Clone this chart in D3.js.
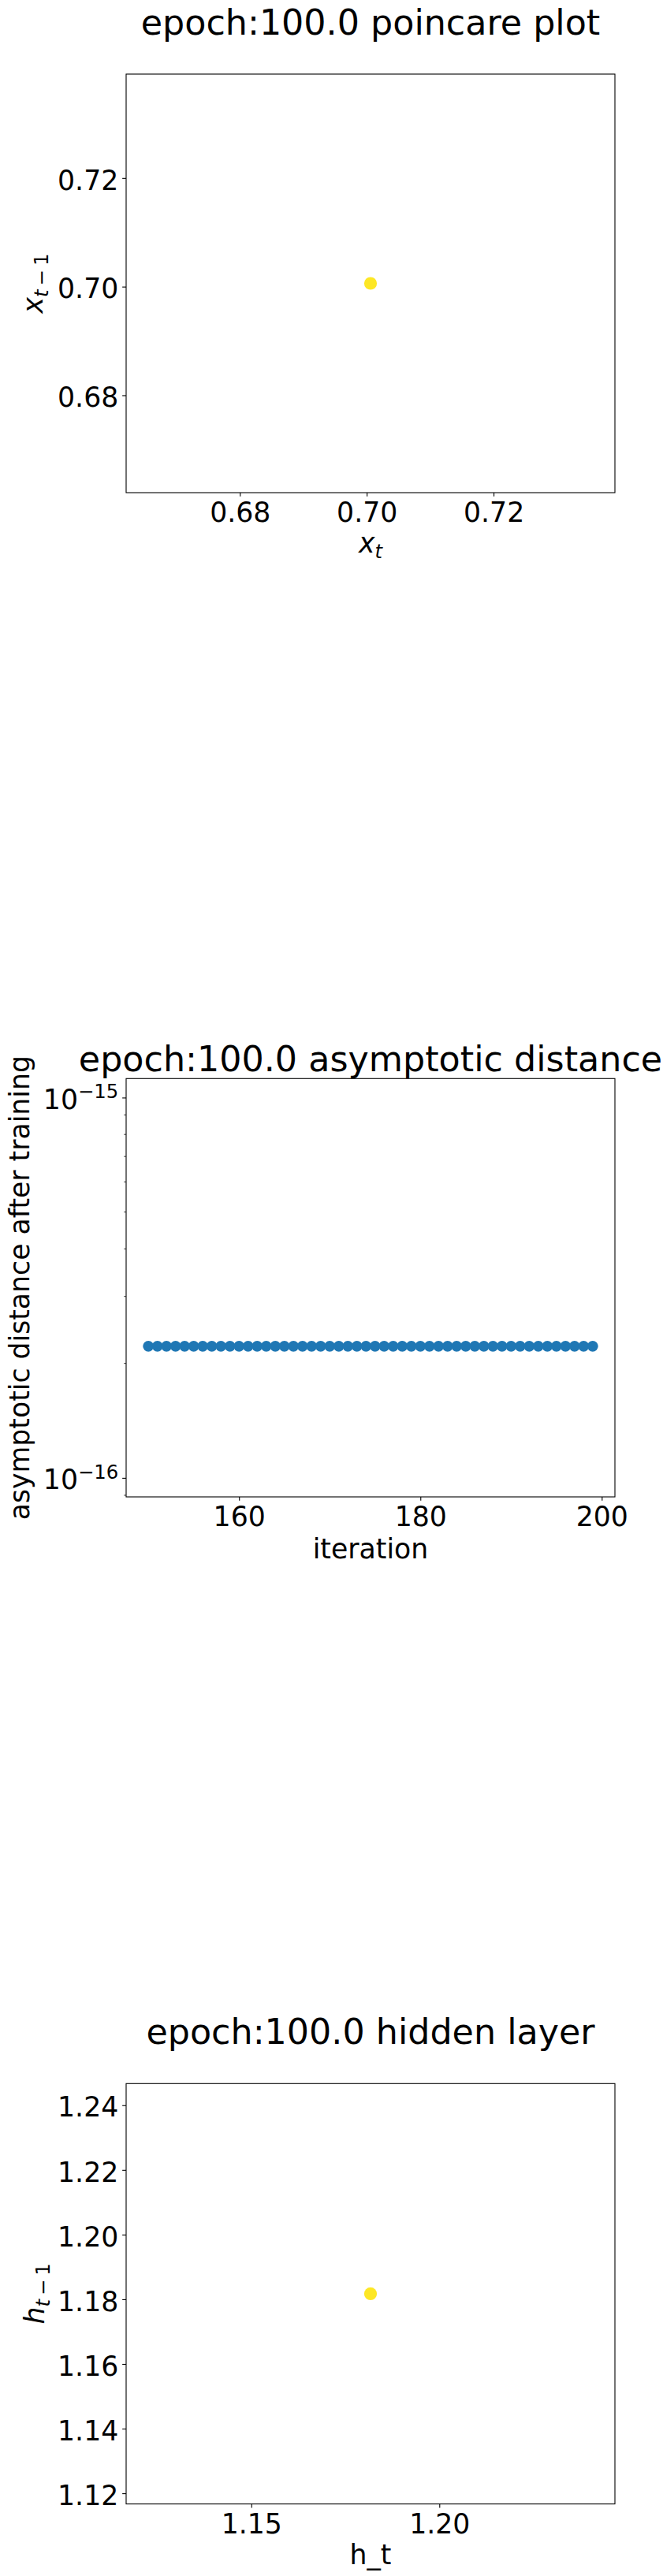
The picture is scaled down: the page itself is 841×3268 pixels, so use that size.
<!DOCTYPE html>
<html>
<head>
<meta charset="utf-8">
<script src="https://cdn.jsdelivr.net/npm/d3@7"></script>
<style>
  body { margin: 0; background: #fff; }
  svg { display: block; font-family: "DejaVu Sans", sans-serif; }
</style>
</head>
<body>
<svg id="chart" width="841" height="3268"></svg>
<script>
// poincare plot (x_t vs x_{t-1}), a single fixed point
const poincareX = [0.7006];
const poincareY = [0.7006];
const poincareXTicks = [0.68, 0.70, 0.72];
const poincareYTicks = [0.68, 0.70, 0.72];

// asymptotic distance after training, per iteration
const iterations = [
  150, 151, 152, 153, 154, 155, 156, 157, 158, 159,
  160, 161, 162, 163, 164, 165, 166, 167, 168, 169,
  170, 171, 172, 173, 174, 175, 176, 177, 178, 179,
  180, 181, 182, 183, 184, 185, 186, 187, 188, 189,
  190, 191, 192, 193, 194, 195, 196, 197, 198, 199
];
const distances = [
  2.22e-16, 2.22e-16, 2.22e-16, 2.22e-16, 2.22e-16, 2.22e-16, 2.22e-16, 2.22e-16, 2.22e-16, 2.22e-16,
  2.22e-16, 2.22e-16, 2.22e-16, 2.22e-16, 2.22e-16, 2.22e-16, 2.22e-16, 2.22e-16, 2.22e-16, 2.22e-16,
  2.22e-16, 2.22e-16, 2.22e-16, 2.22e-16, 2.22e-16, 2.22e-16, 2.22e-16, 2.22e-16, 2.22e-16, 2.22e-16,
  2.22e-16, 2.22e-16, 2.22e-16, 2.22e-16, 2.22e-16, 2.22e-16, 2.22e-16, 2.22e-16, 2.22e-16, 2.22e-16,
  2.22e-16, 2.22e-16, 2.22e-16, 2.22e-16, 2.22e-16, 2.22e-16, 2.22e-16, 2.22e-16, 2.22e-16, 2.22e-16
];
const iterationTicks = [160, 180, 200];
const distanceTicks = [1e-16, 1e-15];

// hidden layer (h_t vs h_{t-1})
const hiddenX = [1.1817];
const hiddenY = [1.1817];
const hiddenXTicks = [1.15, 1.20];
const hiddenYTicks = [1.12, 1.14, 1.16, 1.18, 1.20, 1.22, 1.24];

const svg = d3.select('#chart');
svg.append('rect').attr('width', 841).attr('height', 3268).attr('fill', '#fff');

const LEFT = 160, RIGHT = 780;
const TICK = 34.7, TITLE = 44.4, SUB = 24.3;
const tickLen = 4.86;

// matplotlib-like limits for a single value: nonsingular expand + 5% margin
const flatDomain = (v) => [v * 0.945, v * 1.055];

function styleAxis(g) {
  g.attr('font-size', null).attr('font-family', null);
  g.select('.domain').remove();
  g.selectAll('.tick line').attr('stroke', '#000').attr('stroke-width', 1.1);
  g.selectAll('.tick text').attr('fill', '#000').attr('font-size', TICK);
}

function frame(top, h) {
  svg.append('rect')
    .attr('x', LEFT).attr('y', top)
    .attr('width', RIGHT - LEFT).attr('height', h)
    .attr('fill', 'none').attr('stroke', '#000').attr('stroke-width', 1.1);
}

function title(text, y) {
  svg.append('text')
    .attr('x', 470).attr('y', y)
    .attr('text-anchor', 'middle')
    .attr('font-size', TITLE)
    .text(text);
}

// math label: italic base with subscript; a binary minus gets some space
function mathLabel(parent, base, sub) {
  parent.append('tspan').attr('font-style', 'italic').text(base);
  parent.append('tspan').attr('dy', 6.5).attr('font-size', SUB)
    .attr('font-style', 'italic').text(sub[0]);
  if (sub.length > 1) {
    parent.append('tspan').attr('dx', 5).attr('font-size', SUB).text(sub[1]);
    parent.append('tspan').attr('dx', 5).attr('font-size', SUB).text(sub.slice(2));
  }
}

function xAxis(x, bottom, ticks, fmt) {
  const g = svg.append('g')
    .attr('transform', `translate(0,${bottom})`)
    .call(d3.axisBottom(x).tickValues(ticks).tickFormat(fmt)
      .tickSizeOuter(0).tickSize(tickLen).tickPadding(tickLen));
  styleAxis(g);
  g.selectAll('.tick text').attr('dy', '0.79em');
}

function yAxis(y, ticks, fmt) {
  const g = svg.append('g')
    .attr('transform', `translate(${LEFT},0)`)
    .call(d3.axisLeft(y).tickValues(ticks).tickFormat(fmt)
      .tickSizeOuter(0).tickSize(tickLen).tickPadding(tickLen));
  styleAxis(g);
  g.selectAll('.tick text').attr('dy', '0.41em');
  return g;
}

// scatter panel with one point drawn in viridis yellow
function pointPanel(opts) {
  const { top, h, xs, ys, xTicks, yTicks, name, xlabel, ylabel, ylabelX } = opts;
  const bottom = top + h;
  const x = d3.scaleLinear().domain(flatDomain(xs[0])).range([LEFT, RIGHT]);
  const y = d3.scaleLinear().domain(flatDomain(ys[0])).range([bottom, top]);

  svg.append('g').selectAll('circle')
    .data(xs.map((v, i) => [v, ys[i]]))
    .join('circle')
      .attr('cx', (d) => x(d[0]))
      .attr('cy', (d) => y(d[1]))
      .attr('r', 8.1)
      .attr('fill', '#fde725');

  frame(top, h);
  xAxis(x, bottom, xTicks, d3.format('.2f'));
  yAxis(y, yTicks, d3.format('.2f'));
  title(name, top - 50);

  const xl = svg.append('text')
    .attr('x', 470).attr('y', bottom + 76)
    .attr('text-anchor', 'middle').attr('font-size', TICK);
  xlabel(xl);

  const yl = svg.append('text')
    .attr('transform', `translate(${ylabelX},${top + h / 2}) rotate(-90)`)
    .attr('text-anchor', 'middle').attr('font-size', TICK);
  ylabel(yl);
}

pointPanel({
  top: 94, h: 531,
  xs: poincareX, ys: poincareY,
  xTicks: poincareXTicks, yTicks: poincareYTicks,
  name: 'epoch:100.0 poincare plot',
  xlabel: (t) => mathLabel(t, 'x', 't'),
  ylabel: (t) => mathLabel(t, 'x', 't\u22121'),
  ylabelX: 54
});

// distance panel, log y axis
{
  const top = 1368.3, h = 530.7, bottom = top + h;
  const x = d3.scaleLinear().domain([147.55, 201.45]).range([LEFT, RIGHT]);
  const y = d3.scaleLog().domain([10 ** -16.05, 10 ** -14.95]).range([bottom, top]);

  svg.append('g').selectAll('circle')
    .data(iterations.map((v, i) => [v, distances[i]]))
    .join('circle')
      .attr('cx', (d) => x(d[0]))
      .attr('cy', (d) => y(d[1]))
      .attr('r', 6.9)
      .attr('fill', '#1f77b4');

  frame(top, h);
  xAxis(x, bottom, iterationTicks, d3.format('d'));

  // minor ticks at 2..9 x 10^k
  const minor = y.ticks().filter((v) => !distanceTicks.some((m) => Math.abs(v / m - 1) < 1e-6));
  svg.append('g').selectAll('line')
    .data(minor)
    .join('line')
      .attr('x1', LEFT - 2.78).attr('x2', LEFT)
      .attr('y1', (d) => y(d)).attr('y2', (d) => y(d))
      .attr('stroke', '#000').attr('stroke-width', 0.8);

  const g = yAxis(y, distanceTicks, () => '');
  g.selectAll('.tick text').each(function(d) {
    const t = d3.select(this).attr('dy', null).attr('y', 14);
    t.append('tspan').text('10');
    t.append('tspan').attr('dy', -13.5).attr('font-size', SUB)
      .text('\u2212' + Math.abs(Math.round(Math.log10(d))));
  });

  title('epoch:100.0 asymptotic distance', top - 9.3);

  svg.append('text')
    .attr('x', 470).attr('y', bottom + 78)
    .attr('text-anchor', 'middle').attr('font-size', TICK)
    .text('iteration');

  svg.append('text')
    .attr('transform', `translate(37,${top + h / 2}) rotate(-90)`)
    .attr('text-anchor', 'middle').attr('font-size', TICK)
    .text('asymptotic distance after training');
}

pointPanel({
  top: 2643.3, h: 533.3,
  xs: hiddenX, ys: hiddenY,
  xTicks: hiddenXTicks, yTicks: hiddenYTicks,
  name: 'epoch:100.0 hidden layer',
  xlabel: (t) => t.text('h_t'),
  ylabel: (t) => mathLabel(t, 'h', 't\u22121'),
  ylabelX: 56
});
</script>
</body>
</html>
